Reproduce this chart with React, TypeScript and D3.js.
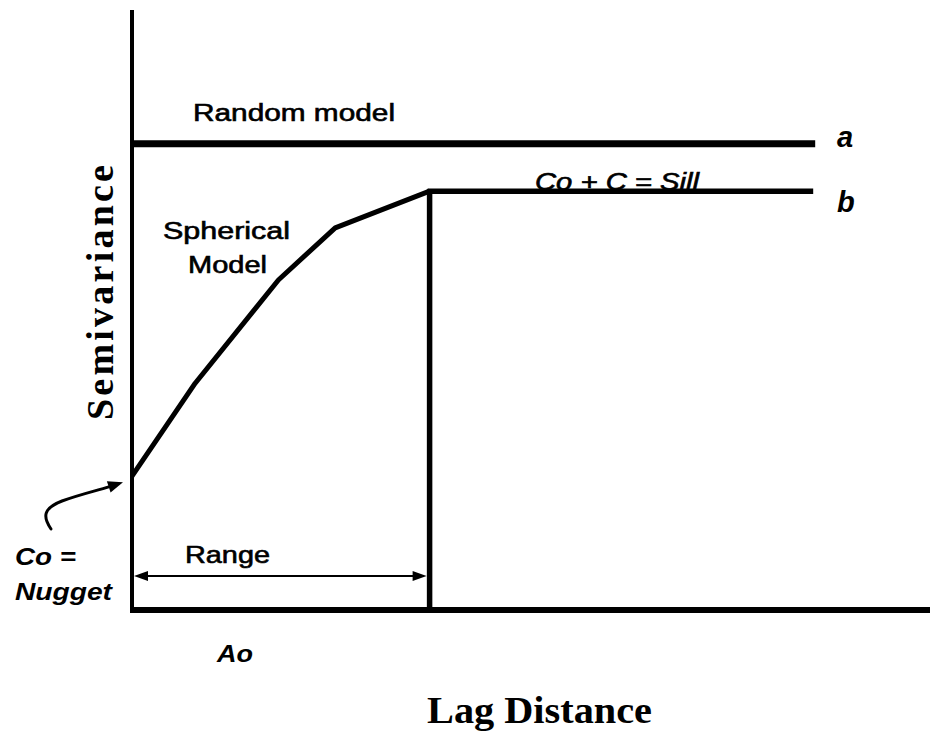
import React from "react";
import * as d3 from "d3";

// ---- data (lag units / semivariance units) ----
const lagPoints = [0, 0.79, 1.83, 2.54, 3.72];
const sphericalValues = [2.23, 3.78, 5.5, 6.37, 6.98];
const sillValue = 6.98;
const randomValue = 7.77;
const rangeAo = 3.72;
const lineEndLag = 8.54;
const nuggetValue = 2.23;
const axisLabels = ["Lag Distance", "Semivariance"];

const W = 930;
const H = 742;
const SANS = "'Liberation Sans', Arial, Helvetica, sans-serif";
const SERIF = "'Liberation Serif', 'Times New Roman', serif";

export default function App() {
  const x = d3.scaleLinear().domain([0, 10]).range([132, 932]);
  const y = d3.scaleLinear().domain([0, 10]).range([610, 10]);

  const pts: [number, number][] = lagPoints.map((l, i) => [l, sphericalValues[i]]);
  const line = d3
    .line<[number, number]>()
    .x((d) => x(d[0]))
    .y((d) => y(d[1]))
    .curve(d3.curveLinear);

  const x0 = x(0);
  const xA = x(rangeAo);
  const yBase = y(0);
  const rangeY = 576;

  // nugget curved arrow
  const tip: [number, number] = [x0 - 9, y(nuggetValue) + 6];
  const dir = [43, -14];
  const dl = Math.hypot(dir[0], dir[1]);
  const d = [dir[0] / dl, dir[1] / dl];
  const n = [-d[1], d[0]];
  const bc = [tip[0] - 15 * d[0], tip[1] - 15 * d[1]];
  const headPts = [
    tip,
    [bc[0] + 6 * n[0], bc[1] + 6 * n[1]],
    [bc[0] - 6 * n[0], bc[1] - 6 * n[1]],
  ];

  const reg = { fontFamily: SANS, fontSize: 23, stroke: "#000", strokeWidth: 0.6 } as const;

  return (
    <svg
      width={W}
      height={H}
      style={{ position: "absolute", left: 0, top: 0, background: "#fff" }}
    >
      <rect width={W} height={H} fill="#fff" />

      {/* texts under lines */}
      <text x={193} y={121} {...reg} textLength={202} lengthAdjust="spacingAndGlyphs">
        Random model
      </text>
      <text x={535} y={190} {...reg} fontStyle="italic" textLength={164} lengthAdjust="spacingAndGlyphs">
        Co + C = Sill
      </text>
      <text x={163} y={239} {...reg} textLength={127} lengthAdjust="spacingAndGlyphs">
        Spherical
      </text>
      <text x={188} y={273} {...reg} textLength={79} lengthAdjust="spacingAndGlyphs">
        Model
      </text>
      <text x={837} y={147} fontFamily={SANS} fontSize={29} fontStyle="italic" fontWeight="bold">
        a
      </text>
      <text x={837} y={212} fontFamily={SANS} fontSize={29} fontStyle="italic" fontWeight="bold">
        b
      </text>
      <text x={185} y={563} {...reg} fontSize={24} textLength={85} lengthAdjust="spacingAndGlyphs">
        Range
      </text>
      <text x={15} y={565} fontFamily={SANS} fontSize={24} fontStyle="italic" fontWeight="bold" textLength={61} lengthAdjust="spacingAndGlyphs">
        Co =
      </text>
      <text x={15} y={600} fontFamily={SANS} fontSize={24} fontStyle="italic" fontWeight="bold" textLength={97} lengthAdjust="spacingAndGlyphs">
        Nugget
      </text>
      <text x={217} y={662} fontFamily={SANS} fontSize={24} fontStyle="italic" fontWeight="bold" textLength={36} lengthAdjust="spacingAndGlyphs">
        Ao
      </text>
      <text x={427} y={723} fontFamily={SERIF} fontSize={38} fontWeight="bold" textLength={225} lengthAdjust="spacingAndGlyphs">
        {axisLabels[0]}
      </text>
      <text
        transform={`translate(113,420) rotate(-90)`}
        fontFamily={SERIF}
        fontSize={38}
        fontWeight="bold"
        textLength={255}
        lengthAdjust="spacing"
      >
        {axisLabels[1]}
      </text>

      {/* axes */}
      <line x1={x0} x2={x0} y1={y(10)} y2={yBase + 3} stroke="#000" strokeWidth={4} />
      <line x1={x0 - 2} x2={W} y1={yBase} y2={yBase} stroke="#000" strokeWidth={6} />

      {/* random model line a */}
      <line x1={x0} x2={x(lineEndLag)} y1={y(randomValue)} y2={y(randomValue)} stroke="#000" strokeWidth={7} />

      {/* spherical model */}
      <path d={line(pts) || ""} fill="none" stroke="#000" strokeWidth={5} strokeLinejoin="round" />
      {/* sill line b */}
      <line x1={xA - 2} x2={x(lineEndLag) - 2} y1={y(sillValue)} y2={y(sillValue)} stroke="#000" strokeWidth={5.5} />
      {/* range vertical */}
      <line x1={xA} x2={xA} y1={y(sillValue) - 2} y2={yBase} stroke="#000" strokeWidth={5.5} />

      {/* range arrow */}
      <line x1={x0 + 8} x2={xA - 10} y1={rangeY} y2={rangeY} stroke="#000" strokeWidth={1.8} />
      <path d={`M${x0 + 2},${rangeY} L${x0 + 16},${rangeY - 5} L${x0 + 16},${rangeY + 5} Z`} fill="#000" />
      <path d={`M${xA - 3},${rangeY} L${xA - 17},${rangeY - 5} L${xA - 17},${rangeY + 5} Z`} fill="#000" />

      {/* nugget curved arrow */}
      <path
        d={`M51,529 C42,516 44,508 62,501 C78,495 95,491 ${bc[0]},${bc[1]}`}
        fill="none"
        stroke="#000"
        strokeWidth={3}
        strokeLinecap="round"
      />
      <path d={`M${headPts.map((p) => p.join(",")).join(" L")} Z`} fill="#000" />
    </svg>
  );
}
